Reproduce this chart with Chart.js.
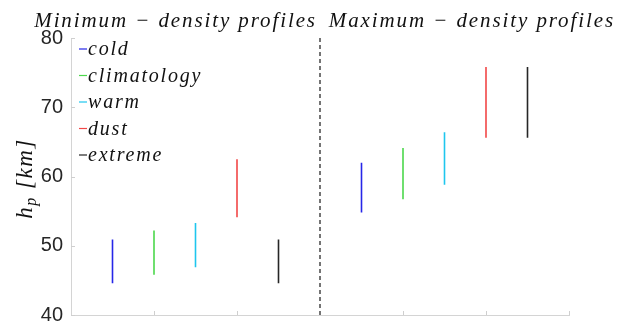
<!DOCTYPE html>
<html>
<head>
<meta charset="utf-8">
<script src="https://cdn.jsdelivr.net/npm/chart.js@4.4.1/dist/chart.umd.min.js"></script>
<style>
  html, body { margin: 0; padding: 0; background: #ffffff; }
  #wrap { width: 626px; height: 335px; position: relative; }
</style>
</head>
<body>
<div id="wrap"><canvas id="chart"></canvas></div>
<script>
// Penetration-height ranges h_p [km] per atmosphere profile
const profiles = ['cold', 'climatology', 'warm', 'dust', 'extreme'];
const profileColors = ['#2626e8', '#4cd84c', '#1ec6ee', '#f24848', '#262626'];

// minimum-density profiles
const minPos  = [0.5, 1.0, 1.5, 2.0, 2.5];
const minLow  = [44.6, 45.8, 46.9, 54.1, 44.6];
const minHigh = [50.9, 52.2, 53.3, 62.5, 50.9];

// maximum-density profiles
const maxPos  = [3.5, 4.0, 4.5, 5.0, 5.5];
const maxLow  = [54.8, 56.7, 58.8, 65.6, 65.6];
const maxHigh = [62.0, 64.1, 66.4, 75.8, 75.8];

const yTicks = [40, 50, 60, 70, 80];
const xTicks = [1, 2, 4, 5, 6];
const dividerX = 3;
const panelTitles = ['Minimum \u2212 density profiles', 'Maximum \u2212 density profiles'];
const titleCenters = [1.26, 4.83];

const serif = '"Liberation Serif", "Times New Roman", serif';

const datasets = profiles.map((name, i) => ({
  label: name,
  data: [
    { x: minPos[i], y: minLow[i] },
    { x: minPos[i], y: minHigh[i] },
    { x: minPos[i], y: null },
    { x: maxPos[i], y: maxLow[i] },
    { x: maxPos[i], y: maxHigh[i] }
  ],
  borderColor: profileColors[i],
  backgroundColor: profileColors[i],
  borderWidth: 1.6,
  pointRadius: 0,
  showLine: true,
  spanGaps: false,
  fill: false
}));

datasets.push({
  label: 'divider',
  data: [{ x: dividerX, y: yTicks[0] }, { x: dividerX, y: yTicks[yTicks.length - 1] }],
  borderColor: '#3a3a3a',
  borderWidth: 1.4,
  borderDash: [4, 3],
  pointRadius: 0,
  showLine: true,
  fill: false
});

const overlay = {
  id: 'overlay',
  afterDraw(chart) {
    const { ctx, chartArea: a, scales: { x, y } } = chart;
    ctx.save();

    // short inward tick marks
    ctx.strokeStyle = '#cfcfcf';
    ctx.lineWidth = 1;
    yTicks.forEach(v => {
      const py = Math.round(y.getPixelForValue(v)) + 0.5;
      ctx.beginPath(); ctx.moveTo(a.left, py); ctx.lineTo(a.left + 4, py); ctx.stroke();
    });
    xTicks.forEach(v => {
      const px = Math.round(x.getPixelForValue(v)) + 0.5;
      ctx.beginPath(); ctx.moveTo(px, a.bottom); ctx.lineTo(px, a.bottom - 4); ctx.stroke();
    });

    // panel titles
    ctx.fillStyle = '#111111';
    ctx.font = 'italic 21px ' + serif;
    ctx.letterSpacing = '1.9px';
    ctx.textAlign = 'center';
    ctx.textBaseline = 'alphabetic';
    panelTitles.forEach((t, i) => ctx.fillText(t, x.getPixelForValue(titleCenters[i]), 27));

    // legend in the top-left corner of the plot
    ctx.textAlign = 'left';
    ctx.font = 'italic 20px ' + serif;
    ctx.letterSpacing = '1.8px';
    profiles.forEach((name, i) => {
      const base = a.top + 17 + i * 26.5;
      ctx.strokeStyle = profileColors[i];
      ctx.lineWidth = 1.2;
      ctx.beginPath(); ctx.moveTo(a.left + 8, base - 6); ctx.lineTo(a.left + 16, base - 6); ctx.stroke();
      ctx.fillStyle = '#111111';
      ctx.fillText(name, a.left + 17, base);
    });

    // y-axis title: h_p [km]
    ctx.translate(32, (a.top + a.bottom) / 2 + 2);
    ctx.rotate(-Math.PI / 2);
    ctx.fillStyle = '#111111';
    ctx.letterSpacing = '1.5px';
    const fMain = 'italic 23px ' + serif;
    const fSub = 'italic 16px ' + serif;
    ctx.font = fMain; const wh = ctx.measureText('h').width;
    ctx.font = fSub; const wp = ctx.measureText('p').width;
    ctx.font = fMain; const wk = ctx.measureText(' [km]').width;
    let cx = -(wh + wp + wk) / 2;
    ctx.font = fMain; ctx.fillText('h', cx, 0); cx += wh;
    ctx.font = fSub; ctx.fillText('p', cx, 4); cx += wp;
    ctx.font = fMain; ctx.fillText(' [km]', cx, 0);

    ctx.restore();
  }
};

new Chart(document.getElementById('chart'), {
  type: 'line',
  data: { datasets },
  options: {
    responsive: true,
    maintainAspectRatio: false,
    animation: false,
    layout: { padding: { top: 38, right: 57, bottom: 17, left: 0 } },
    plugins: { legend: { display: false }, tooltip: { enabled: false }, title: { display: false } },
    scales: {
      x: {
        type: 'linear',
        min: 0,
        max: 6,
        ticks: { display: false },
        grid: { drawOnChartArea: false, drawTicks: false },
        border: { color: '#d4d4d4', width: 1 },
        afterFit: s => { s.height = 0; }
      },
      y: {
        type: 'linear',
        min: yTicks[0],
        max: yTicks[yTicks.length - 1],
        afterBuildTicks: s => { s.ticks = yTicks.map(v => ({ value: v })); },
        ticks: {
          color: '#262626',
          font: { family: '"Liberation Sans", Arial, sans-serif', size: 20 },
          padding: 8
        },
        grid: { drawOnChartArea: false, drawTicks: false },
        border: { color: '#d4d4d4', width: 1 },
        afterFit: s => { s.width = 71; }
      }
    }
  },
  plugins: [overlay]
});
</script>
</body>
</html>
